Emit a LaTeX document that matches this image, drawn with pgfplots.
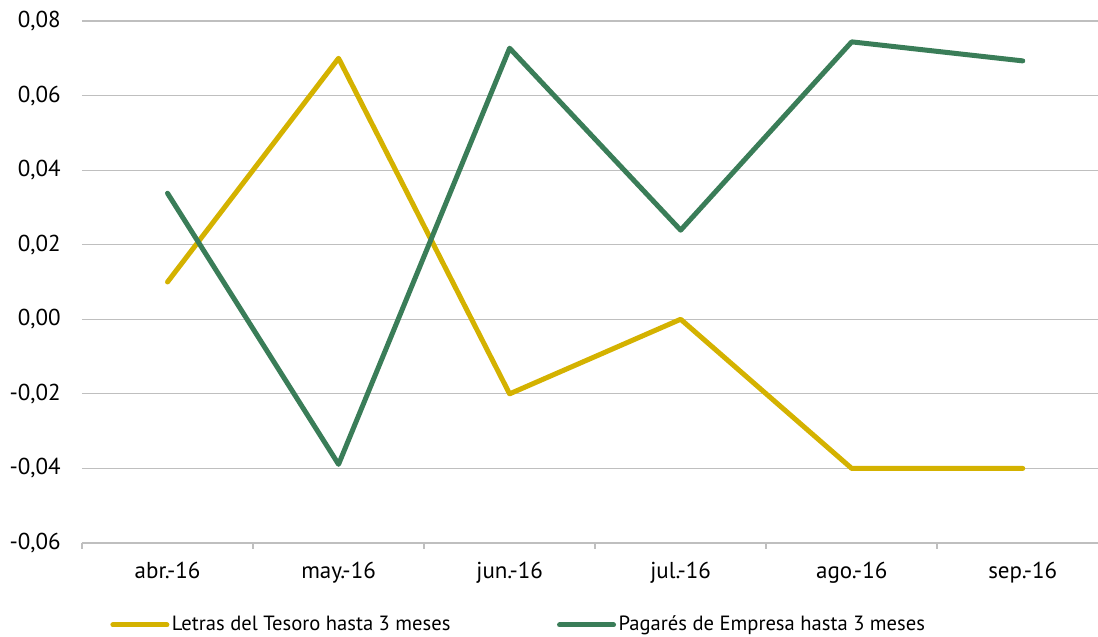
\documentclass[border=0pt]{standalone}
\usepackage{pgfplots}
\pgfplotsset{compat=1.18}
\usepackage{fontspec}
\setmainfont{PT Sans}
\definecolor{cYel}{RGB}{212,178,0}
\definecolor{cGrn}{RGB}{58,125,88}
\definecolor{cGrid}{RGB}{191,191,191}
\begin{document}
\begin{tikzpicture}
\clip (-41pt,-47pt) rectangle (508pt,271.5pt);
\begin{axis}[
  at={(0,0)}, anchor=south west,
  scale only axis, width=508pt, height=261pt,
  xmin=-0.5, xmax=5.44,
  ymin=-0.06, ymax=0.08,
  scaled y ticks=false, scaled x ticks=false,
  axis x line*=bottom, axis y line*=left,
  x axis line style={draw=cGrid, line width=0.8pt, -},
  y axis line style={draw=none},
  xtick={0,1,2,3,4,5},
  xticklabels={abr.-16,may.-16,jun.-16,jul.-16,ago.-16,sep.-16},
  major x tick style={draw=none},
  minor xtick={-0.5,0.5,1.5,2.5,3.5,4.5},
  minor x tick style={draw=cGrid, line width=0.8pt},
  minor tick length=3pt,
  tick align=outside,
  xticklabel style={anchor=base, inner sep=0pt, yshift=-17.5pt, font=\fontsize{11.5}{13}\selectfont},
  ytick={-0.06,-0.04,-0.02,0,0.02,0.04,0.06,0.08},
  yticklabels={{-0,06},{-0,04},{-0,02},{0,00},{0,02},{0,04},{0,06},{0,08}},
  major y tick style={draw=none},
  major tick length=0pt,
  yticklabel style={anchor=east, inner sep=0pt, xshift=-10.5pt, font=\fontsize{11.5}{13}\selectfont},
  ymajorgrids,
  y grid style={draw=cGrid, line width=0.6pt},
  legend columns=2,
  legend style={at={(14pt,-41pt)}, anchor=west, draw=none, fill=none, inner sep=0pt,
    nodes={inner sep=1.3pt},
    font=\fontsize{10.3}{12}\selectfont,
    /tikz/every even column/.append style={column sep=52pt}},
  legend cell align=left,
  legend image code/.code={\draw[#1, line width=2.5pt] (0pt,0pt) -- (27pt,0pt);},
  every axis plot/.append style={line width=2.5pt, line join=round, line cap=round},
]
\addplot[cYel] coordinates {(0,0.01) (1,0.07) (2,-0.02) (3,0.0) (4,-0.04) (5,-0.04)};
\addlegendentry{Letras del Tesoro hasta 3 meses}
\addplot[cGrn] coordinates {(0,0.0338) (1,-0.0389) (2,0.0727) (3,0.0239) (4,0.0744) (5,0.0693)};
\addlegendentry{Pagarés de Empresa hasta 3 meses}
\end{axis}
\end{tikzpicture}
\end{document}
